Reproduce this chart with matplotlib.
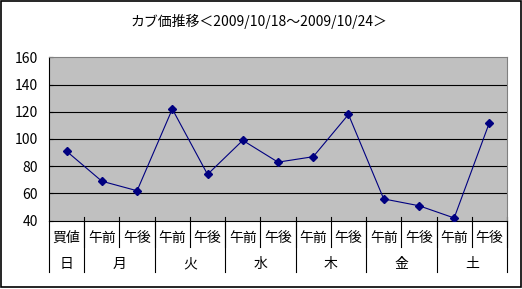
import matplotlib
matplotlib.use("Agg")
import matplotlib.pyplot as plt
from matplotlib.patches import Rectangle

plt.rcParams['font.family'] = ['Noto Sans CJK JP', 'DejaVu Sans']

title = "カブ価推移＜2009/10/18～2009/10/24＞"
slots = ['買値', '午前', '午後', '午前', '午後', '午前', '午後',
         '午前', '午後', '午前', '午後', '午前', '午後']
days = ['日', '月', '火', '水', '木', '金', '土']
day_spans = [1, 2, 2, 2, 2, 2, 2]
prices = [91, 69, 62, 122, 74, 99, 83, 87, 118, 56, 51, 42, 112]
yticks = [40, 60, 80, 100, 120, 140, 160]

W, H = 522, 289
fig = plt.figure(figsize=(W / 100, H / 100), dpi=100)
fig.add_artist(Rectangle((0.6 / W, 1.6 / H), 520.6 / W, 286.6 / H, transform=fig.transFigure,
                         fill=False, edgecolor='black', linewidth=1.2))

# plot area in pixels: x 49..507, y 57.3..220.7
ax = fig.add_axes([49 / W, 1 - 220.7 / H, 458 / W, 163.4 / H])
ax.set_facecolor('#c0c0c0')
x = list(range(len(prices)))
ax.plot(x, prices, color='#000080', linewidth=0.8, marker='D', markersize=4.5,
        markerfacecolor='#000080', markeredgecolor='#000080', zorder=3)

ax.set_xlim(-0.5, len(prices) - 0.5)
ax.set_ylim(40, 160)
ax.set_yticks(yticks)
for v in yticks[1:-1]:
    ax.axhline(v, color='black', linewidth=0.8, zorder=1)
ax.tick_params(axis='y', direction='in', length=3, width=0.8, labelsize=10, pad=8)
ax.set_xticks([])
for s in ['top', 'right']:
    ax.spines[s].set_color('#808080')
    ax.spines[s].set_linewidth(0.8)
for s in ['left', 'bottom']:
    ax.spines[s].set_color('black')
    ax.spines[s].set_linewidth(0.8)

tr = ax.get_xaxis_transform()
ph = 163.4
def ya(px):
    return (220.7 - px) / ph

# first row of category labels with separators
for i, lab in enumerate(slots):
    ax.text(i, ya(238.3), lab, transform=tr, ha='center', va='center', fontsize=10)
for i in range(1, len(slots) + 1):
    ax.plot([i - 0.5, i - 0.5], [ya(217), ya(247)], transform=tr, color='black',
            linewidth=0.8, clip_on=False)

# second row: days
start = 0
bounds = [-0.5]
for d, n in zip(days, day_spans):
    ax.text(start + (n - 1) / 2, ya(264), d, transform=tr, ha='center', va='center', fontsize=10)
    start += n
    bounds.append(start - 0.5)
for b in bounds:
    ax.plot([b, b], [ya(220.7), ya(272)], transform=tr, color='black',
            linewidth=0.8, clip_on=False)

fig.text(259 / W, 1 - 21.5 / H, title, ha='center', va='center', fontsize=10)

fig.savefig('out.png', dpi=100)
